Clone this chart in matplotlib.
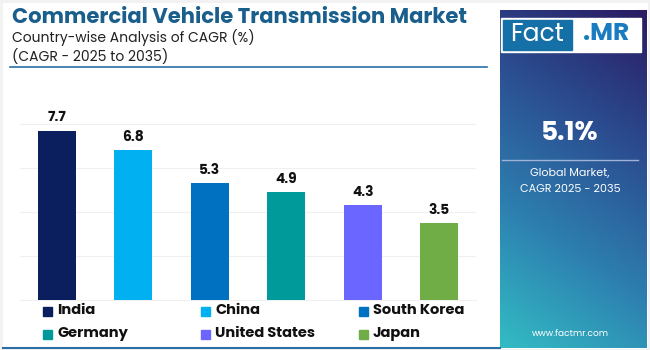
import numpy as np
import matplotlib
matplotlib.use("Agg")
import matplotlib.pyplot as plt
from matplotlib.colors import LinearSegmentedColormap
from matplotlib.patches import Rectangle

countries = ["India", "China", "South Korea", "Germany", "United States", "Japan"]
cagr = [7.7, 6.8, 5.3, 4.9, 4.3, 3.5]
colors = ["#0b1f5e", "#00b0f0", "#0070c0", "#009a9a", "#6b66ff", "#70ad47"]
global_cagr = "5.1%"

plt.rcParams["font.family"] = ["Poppins", "Roboto", "DejaVu Sans"]

W, H = 650, 350
fig = plt.figure(figsize=(6.5, 3.5), dpi=100)
fig.patch.set_facecolor("#f2f2f2")

def box(x0, y0, x1, y1):
    # pixel box (top-left origin) -> figure fraction rect
    return [x0 / W, 1 - y1 / H, (x1 - x0) / W, (y1 - y0) / H]

# white card
card = fig.add_axes(box(3, 3, 648, 349))
card.set_facecolor("white")
card.set_xticks([]); card.set_yticks([])
for s in card.spines.values():
    s.set_visible(False)
fig.add_artist(plt.Line2D([3 / W, 500 / W], [1 - 348 / H] * 2, color="#2a6fa8", lw=1.5))

# title block
fig.text(12 / W, 1 - 18 / H, "Commercial Vehicle Transmission Market", fontsize=15.2,
         fontweight="bold", color="#1a5e8c", va="center", ha="left")
fig.text(12 / W, 1 - 38 / H, "Country-wise Analysis of CAGR (%)", fontsize=10,
         color="#222222", va="center", ha="left")
fig.text(12 / W, 1 - 57 / H, "(CAGR - 2025 to 2035)", fontsize=10,
         color="#222222", va="center", ha="left")
fig.add_artist(plt.Line2D([10 / W, 487 / W], [1 - 67 / H] * 2, color="#2a6fa8", lw=1.2))

# bar chart
ax = fig.add_axes(box(20, 80, 476, 300))
x = np.arange(len(countries))
bars = ax.bar(x, cagr, width=0.5, color=colors, zorder=3)
for b, v in zip(bars, cagr):
    ax.text(b.get_x() + b.get_width() / 2, v + 0.25, f"{v}", ha="center", va="bottom",
            fontsize=10, fontweight="bold", color="#111111")
ax.set_xlim(-0.48, 5.48)
ax.set_ylim(0, 10)
ax.set_yticks([2, 4, 6, 8])
ax.grid(axis="y", color="#f0f0f0", lw=0.8, zorder=0)
ax.set_xticks([])
ax.tick_params(axis="y", length=0, labelleft=False)
for s in ["top", "right", "left"]:
    ax.spines[s].set_visible(False)
ax.spines["bottom"].set_color("#f0f0f0")
ax.set_facecolor("none")

# legend
leg_x = [43, 201, 359]
leg_y = [311, 334]
for i, (name, c) in enumerate(zip(countries, colors)):
    px = leg_x[i % 3]
    py = leg_y[i // 3]
    fig.patches.append(Rectangle((px / W, 1 - (py + 4.5) / H), 9 / W, 9 / H,
                                 transform=fig.transFigure, color=c))
    fig.text((px + 14) / W, 1 - py / H, name, fontsize=10.5, fontweight="bold",
             color="#111111", va="center", ha="left")

# right gradient panel
pan = fig.add_axes(box(500, 10, 647, 348))
cmap = LinearSegmentedColormap.from_list("g", ["#2a1a62", "#2b4c8f", "#2d7fb0", "#33bcc4"])
yy, xx = np.mgrid[0:1:200j, 0:1:100j]
grad = 0.85 * yy + 0.25 * (1 - xx)
pan.imshow(grad, cmap=cmap, aspect="auto", extent=[0, 1, 0, 1], origin="upper")
pan.set_xlim(0, 1); pan.set_ylim(0, 1)
pan.axis("off")

# logo
fig.patches.append(Rectangle((501 / W, 1 - 52 / H), 140 / W, 34 / H,
                             transform=fig.transFigure, color="white", zorder=5))
fig.patches.append(Rectangle((503 / W, 1 - 50 / H), 69 / W, 30 / H,
                             transform=fig.transFigure, color="#1670a8", zorder=6))
fig.text(537 / W, 1 - 35 / H, "Fact", fontsize=18, color="white", ha="center",
         va="center", zorder=7)
fig.text(606 / W, 1 - 35 / H, ".MR", fontsize=18, fontweight="bold", color="#1a7cc0",
         ha="center", va="center", zorder=7)

fig.text(570 / W, 1 - 133 / H, global_cagr, fontsize=19, fontweight="bold", color="white",
         ha="center", va="center")
fig.add_artist(plt.Line2D([502 / W, 638 / W], [1 - 160 / H] * 2, color="#9fb4d6", lw=1))
fig.text(570 / W, 1 - 174 / H, "Global Market,", fontsize=8, color="white",
         ha="center", va="center")
fig.text(570 / W, 1 - 189 / H, "CAGR 2025 - 2035", fontsize=8, color="white",
         ha="center", va="center")
fig.text(570 / W, 1 - 334 / H, "www.factmr.com", fontsize=6.5, color="white",
         ha="center", va="center")

fig.savefig("out.png", dpi=100)
